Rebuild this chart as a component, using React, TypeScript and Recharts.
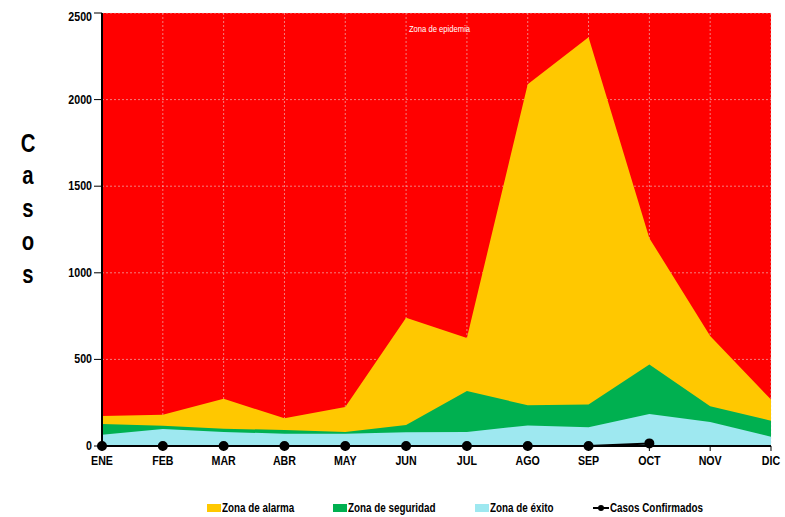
import React from 'react';
import {
  AreaChart,
  Area,
  Line,
  XAxis,
  YAxis,
  CartesianGrid,
  Legend,
  ReferenceArea,
} from 'recharts';

const months = ['ENE', 'FEB', 'MAR', 'ABR', 'MAY', 'JUN', 'JUL', 'AGO', 'SEP', 'OCT', 'NOV', 'DIC'];
const alarma = [173, 181, 273, 160, 225, 740, 624, 2088, 2360, 1200, 635, 268];
const seguridad = [127, 117, 100, 92, 81, 121, 318, 235, 239, 470, 229, 146];
const exito = [65, 98, 81, 71, 71, 79, 81, 119, 108, 185, 139, 54];
const confirmados: (number | null)[] = [0, 0, 0, 0, 0, 0, 0, 0, 0, 15, null, null];
const yTicks = [0, 500, 1000, 1500, 2000, 2500];

const data = months.map((m, i) => ({
  mes: m,
  alarma: alarma[i],
  seguridad: seguridad[i],
  exito: exito[i],
  confirmados: confirmados[i],
}));

// no narrow font installed, so text is squeezed horizontally instead
const FONT = "'Liberation Sans', Arial, sans-serif";
const SQUEEZE = 0.82;

const YELLOW = '#ffc800';
const GREEN = '#00b050';
const CYAN = '#9ee8f0';
const RED = '#ff0000';

function NarrowTick(props: any) {
  const { x, y, payload, textAnchor, dy } = props;
  return (
    <g transform={`translate(${x},${y})`}>
      <text
        transform={`scale(${SQUEEZE},1)`}
        textAnchor={textAnchor}
        dy={dy}
        fontFamily={FONT}
        fontWeight="bold"
        fontSize={13}
        fill="#000"
      >
        {payload.value}
      </text>
    </g>
  );
}

function CasosLabel(props: any) {
  const { viewBox } = props;
  const x = viewBox.x - 14;
  const mid = viewBox.y + viewBox.height / 2;
  const letters = 'Casos'.split('');
  return (
    <g transform={`translate(${x},${mid - 78})`}>
      <text transform="scale(0.78,1)" textAnchor="middle" fontFamily={FONT} fontWeight="bold" fontSize={26} fill="#000">
        {letters.map((l, i) => (
          <tspan key={i} x={0} dy={i === 0 ? 0 : 33}>
            {l}
          </tspan>
        ))}
      </text>
    </g>
  );
}

function EpidemiaLabel(props: any) {
  const { viewBox } = props;
  const cx = viewBox.x + viewBox.width / 2 + 3;
  return (
    <g transform={`translate(${cx},${viewBox.y + 19})`}>
      <text transform="scale(0.85,1)" textAnchor="middle" fontFamily={FONT} fontSize={9} fill="#fff">
        Zona de epidemia
      </text>
    </g>
  );
}

const legendItems = [
  { label: 'Zona de alarma', color: YELLOW, left: 199, kind: 'box' },
  { label: 'Zona de seguridad', color: GREEN, left: 325, kind: 'box' },
  { label: 'Zona de éxito', color: CYAN, left: 467, kind: 'box' },
  { label: 'Casos Confirmados', color: '#000', left: 585, kind: 'line' },
];

function LegendContent() {
  return (
    <div style={{ position: 'relative', height: 16, fontFamily: FONT, fontSize: 12, fontWeight: 'bold' }}>
      {legendItems.map((it) => (
        <div key={it.label} style={{ position: 'absolute', left: it.left, top: 0, display: 'flex', alignItems: 'center', height: 16 }}>
          {it.kind === 'box' ? (
            <span style={{ display: 'inline-block', width: 14, height: 8, background: it.color, marginRight: 1 }} />
          ) : (
            <svg width={16} height={8} style={{ marginRight: 1 }}>
              <line x1={0} y1={4} x2={16} y2={4} stroke="#000" strokeWidth={2} />
              <circle cx={8} cy={4} r={3} fill="#000" />
            </svg>
          )}
          <span
            style={{
              color: '#000',
              whiteSpace: 'nowrap',
              display: 'inline-block',
              transform: `scaleX(${SQUEEZE})`,
              transformOrigin: 'left center',
            }}
          >
            {it.label}
          </span>
        </div>
      ))}
    </div>
  );
}

export default function App() {
  return (
    <>
      <style>{'body { margin: 0; }'}</style>
      <div style={{ padding: '8px 0 0 8px', width: 777, height: 509 }}>
        <AreaChart width={777} height={509} data={data} margin={{ top: 5, right: 14, left: 34, bottom: 41 }}>
          <CartesianGrid fill={RED} fillOpacity={1} stroke="#e8e8e8" strokeOpacity={0.55} strokeDasharray="2 2" />
          <XAxis
            dataKey="mes"
            tick={<NarrowTick dy={12} />}
            axisLine={{ stroke: '#000', strokeWidth: 2 }}
            tickLine={{ stroke: '#000' }}
            tickSize={5}
            interval={0}
            height={30}
          />
          <YAxis
            domain={[0, 2500]}
            ticks={yTicks}
            width={60}
            tick={<NarrowTick dy={4} />}
            axisLine={{ stroke: '#000', strokeWidth: 2 }}
            tickLine={{ stroke: '#000' }}
            tickSize={8}
            label={{ content: <CasosLabel /> }}
          />
          <ReferenceArea y1={0} y2={2500} fillOpacity={0} strokeOpacity={0} label={{ content: <EpidemiaLabel /> }} />
          <Area type="linear" dataKey="alarma" name="Zona de alarma" stroke="none" fill={YELLOW} fillOpacity={1} isAnimationActive={false} />
          <Area type="linear" dataKey="seguridad" name="Zona de seguridad" stroke="none" fill={GREEN} fillOpacity={1} isAnimationActive={false} />
          <Area type="linear" dataKey="exito" name="Zona de éxito" stroke="none" fill={CYAN} fillOpacity={1} isAnimationActive={false} />
          <Line
            type="linear"
            dataKey="confirmados"
            name="Casos Confirmados"
            stroke="#000"
            strokeWidth={2}
            dot={{ r: 4, fill: '#000', stroke: '#000' }}
            connectNulls={false}
            isAnimationActive={false}
          />
          <Legend verticalAlign="middle" align="center" wrapperStyle={{ top: 492, left: 0, width: 777 }} content={<LegendContent />} />
        </AreaChart>
      </div>
    </>
  );
}
